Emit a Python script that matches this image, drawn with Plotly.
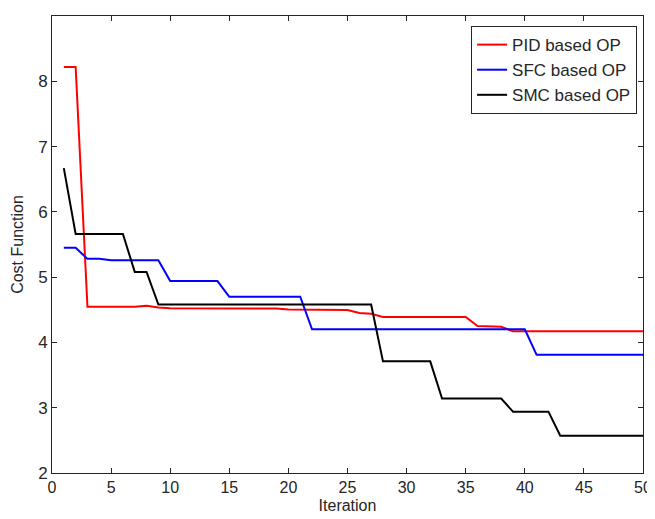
import plotly.graph_objects as go

iterations = list(range(1, 51))

pid_op = [8.22, 8.22, 4.545, 4.545, 4.545, 4.545, 4.545, 4.56, 4.535, 4.525,
          4.525, 4.525, 4.525, 4.525, 4.525, 4.525, 4.525, 4.525, 4.52, 4.505,
          4.505, 4.495, 4.495, 4.495, 4.495, 4.45, 4.44, 4.39, 4.39, 4.39,
          4.39, 4.39, 4.39, 4.39, 4.39, 4.25, 4.25, 4.24, 4.17, 4.17,
          4.17, 4.17, 4.17, 4.17, 4.17, 4.17, 4.17, 4.17, 4.17, 4.17]

sfc_op = [5.45, 5.45, 5.28, 5.28, 5.26, 5.26, 5.26, 5.26, 5.26, 4.94,
          4.94, 4.94, 4.94, 4.94, 4.70, 4.70, 4.70, 4.70, 4.70, 4.70,
          4.70, 4.20, 4.20, 4.20, 4.20, 4.20, 4.20, 4.20, 4.20, 4.20,
          4.20, 4.20, 4.20, 4.20, 4.20, 4.20, 4.20, 4.20, 4.20, 4.20,
          3.81, 3.81, 3.81, 3.81, 3.81, 3.81, 3.81, 3.81, 3.81, 3.81]

smc_op = [6.67, 5.66, 5.66, 5.66, 5.66, 5.66, 5.08, 5.08, 4.58, 4.58,
          4.58, 4.58, 4.58, 4.58, 4.58, 4.58, 4.58, 4.58, 4.58, 4.58,
          4.58, 4.58, 4.58, 4.58, 4.58, 4.58, 4.58, 3.71, 3.71, 3.71,
          3.71, 3.71, 3.14, 3.14, 3.14, 3.14, 3.14, 3.14, 2.94, 2.94,
          2.94, 2.94, 2.57, 2.57, 2.57, 2.57, 2.57, 2.57, 2.57, 2.57]

series_names = ["PID based OP", "SFC based OP", "SMC based OP"]
series_colors = ["#ff0000", "#0000ff", "#000000"]

fig = go.Figure()
for name, vals, col in zip(series_names, [pid_op, sfc_op, smc_op], series_colors):
    fig.add_trace(go.Scatter(x=iterations, y=vals, mode="lines", name=name,
                             line=dict(color=col, width=2)))

FONT = "Liberation Sans, Arial, sans-serif"
ytick_font = dict(family=FONT, size=17, color="#262626")
xtick_font = dict(family=FONT, size=16, color="#262626")

# the page body has an 8px margin, so the figure is sized/offset to compensate
fig.update_layout(
    width=647, height=511, autosize=False,
    margin=dict(l=44, r=12, t=8, b=46),
    plot_bgcolor="white", paper_bgcolor="white",
    font=dict(family=FONT, size=16, color="#262626"),
    showlegend=True,
    legend=dict(x=0.99, y=0.978, xanchor="right", yanchor="top",
                bgcolor="white", bordercolor="#262626", borderwidth=1,
                font=dict(family=FONT, size=17, color="#262626"),
                tracegroupgap=0),
    xaxis=dict(range=[0, 50], dtick=5, tick0=0, showgrid=False, zeroline=False,
               automargin=False, ticklabeloverflow="allow",
               showline=True, linecolor="#262626", linewidth=1, mirror="ticks",
               ticks="inside", ticklen=5, tickcolor="#262626", tickfont=xtick_font,
               title=dict(text="Iteration", font=dict(family=FONT, size=16), standoff=4)),
    yaxis=dict(range=[2, 9], dtick=1, tick0=2, showgrid=False, zeroline=False,
               automargin=False,
               showline=True, linecolor="#262626", linewidth=1, mirror="ticks",
               ticks="inside", ticklen=5, tickcolor="#262626", tickfont=ytick_font,
               title=dict(text="Cost Function", font=dict(family=FONT, size=16), standoff=10)),
)

fig.write_html("out.html")
